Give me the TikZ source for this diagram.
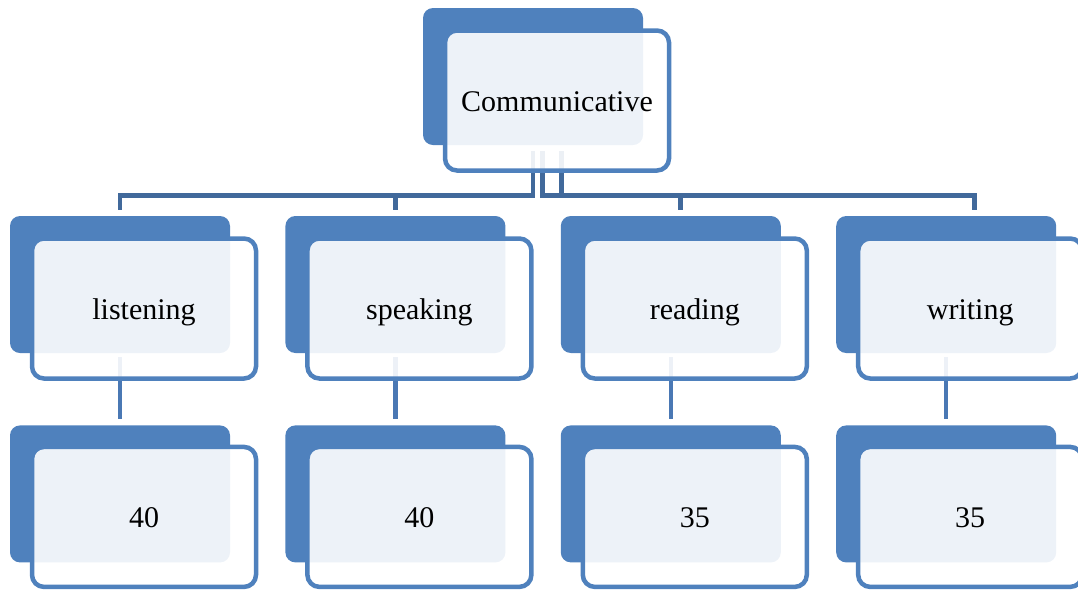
\documentclass[tikz,border=0pt]{standalone}
\usepackage{fontspec}
\setmainfont{Liberation Serif}
\usetikzlibrary{positioning,calc}
\definecolor{boxblue}{HTML}{4F81BD}
\definecolor{busblue}{HTML}{41699B}
\definecolor{linkblue}{HTML}{4A78B4}

\begin{document}
\begin{tikzpicture}[
  x=1pt,y=1pt,
  node distance=72pt and 55pt,
  every node/.style={font=\fontsize{30}{36}\selectfont,align=center},
  back/.style={fill=boxblue,rounded corners=10pt,minimum width=220pt,minimum height=137pt,inner sep=0pt},
  front/.style={draw=boxblue,line width=4.5pt,fill=white,fill opacity=0.9,text opacity=1,rounded corners=12pt,minimum width=224pt,minimum height=140pt,inner sep=0pt,text height=24pt,text depth=2pt},
  bus/.style={line width=4.5pt,color=busblue},
  link/.style={line width=4.5pt,color=linkblue}
]
\useasboundingbox (0,0) rectangle (1078,-590);
% back plates
\node[back] (commb) at (533,-76.5) {};
\node[back] (lsnb) at (120,-284.5) {};
\node[back,right=of lsnb] (spkb) {};
\node[back,right=of spkb] (rdgb) {};
\node[back,right=of rdgb] (wrtb) {};
\node[back,below=of lsnb] (lsnpb) {};
\node[back,below=of spkb] (spkpb) {};
\node[back,below=of rdgb] (rdgpb) {};
\node[back,below=of wrtb] (wrtpb) {};
% connectors
\coordinate (split) at ([yshift=-50.5pt]commb.south);
\foreach \c/\dx in {lsnb/0,spkb/0,rdgb/9.5,wrtb/28.5}
  \draw[bus] ([xshift=\dx pt,yshift=-6pt]commb.south) |- ([xshift=\dx pt]\c.north |- split) -- ([xshift=\dx pt,yshift=6pt]\c.north);
\foreach \a/\b in {lsnb/lsnpb,spkb/spkpb,rdgb/rdgpb,wrtb/wrtpb}
  \draw[link] ([yshift=-4pt]\a.south) -- ([yshift=6pt]\b.north);
% front boxes
\node[front] (comm) at ([shift={(24pt,-24pt)}]commb.center) {Communicative};
\node[front] (lsn) at ([shift={(24pt,-24pt)}]lsnb.center) {listening};
\node[front] (spk) at ([shift={(24pt,-24pt)}]spkb.center) {speaking};
\node[front] (rdg) at ([shift={(24pt,-24pt)}]rdgb.center) {reading};
\node[front] (wrt) at ([shift={(24pt,-24pt)}]wrtb.center) {writing};
\node[front] (lsnp) at ([shift={(24pt,-23pt)}]lsnpb.center) {40};
\node[front] (spkp) at ([shift={(24pt,-23pt)}]spkpb.center) {40};
\node[front] (rdgp) at ([shift={(24pt,-23pt)}]rdgpb.center) {35};
\node[front] (wrtp) at ([shift={(24pt,-23pt)}]wrtpb.center) {35};
\end{tikzpicture}
\end{document}
